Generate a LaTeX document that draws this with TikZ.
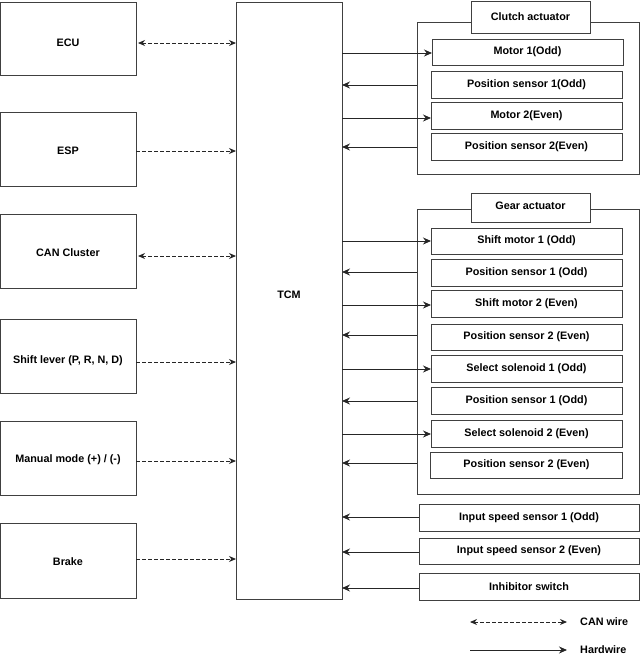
\documentclass[tikz,border=0pt]{standalone}
\usepackage{fontspec}
\setmainfont{Liberation Sans}
\usetikzlibrary{arrows.meta}
\begin{document}
\begin{tikzpicture}[x=1pt,y=-1pt,
  box/.style={draw=black!75,line width=0.9pt},
  lbl/.style={font=\bfseries\fontsize{10.8}{12}\selectfont,inner sep=0pt},
  hw/.style={draw=black!85,line width=0.9pt,-{Stealth[length=8pt,width=7pt]}},
  can/.style={draw=black!85,line width=0.9pt,dash pattern=on 3.5pt off 2.5pt,-{Stealth[length=7pt,width=6pt]}},
  canb/.style={can,{Stealth[length=7pt,width=6pt]}-{Stealth[length=7pt,width=6pt]}}]
\useasboundingbox (0,0) rectangle (640,657);
% left boxes
\draw[box] (0,2) rectangle (136,75); \node[lbl] (ecu) at (68,43) {ECU};
\draw[box] (0,112) rectangle (136,186); \node[lbl] (esp) at (68,151) {ESP};
\draw[box] (0,214) rectangle (136,288); \node[lbl] (can) at (68,253) {CAN Cluster};
\draw[box] (0,319) rectangle (136,393); \node[lbl] (shl) at (68,361) {Shift lever (P, R, N, D)};
\draw[box] (0,421) rectangle (136,495); \node[lbl] (man) at (68,460) {Manual mode (+) / (-)};
\draw[box] (0,523) rectangle (136,598); \node[lbl] (brk) at (68,562) {Brake};
% TCM
\draw[box] (236,2) rectangle (342,599); \node[lbl] (tcm) at (289,295) {TCM};
% left connectors
\draw[canb] (138,43) -- (236,43);
\draw[can] (136,151) -- (236,151);
\draw[canb] (138,256) -- (236,256);
\draw[can] (136,362) -- (236,362);
\draw[can] (136,461) -- (236,461);
\draw[can] (136,559) -- (236,559);
% clutch actuator
\draw[box] (417,22) rectangle (639,174);
\draw[box,fill=white] (471,1) rectangle (590,33); \node[lbl] at (530.5,17) {Clutch actuator};
\draw[box] (432,39) rectangle (623,65); \node[lbl] at (527.5,52) {Motor 1(Odd)};
\draw[box] (431,71) rectangle (622,98); \node[lbl] at (526.5,85) {Position sensor 1(Odd)};
\draw[box] (431,102) rectangle (622,129); \node[lbl] at (526.5,116) {Motor 2(Even)};
\draw[box] (431,133) rectangle (622,160); \node[lbl] at (526.5,147) {Position sensor 2(Even)};
\draw[hw] (342,53) -- (432,53);
\draw[hw] (417,85) -- (342,85);
\draw[hw] (342,118) -- (431,118);
\draw[hw] (417,147) -- (342,147);
% gear actuator
\draw[box] (417,209) rectangle (639,494);
\draw[box,fill=white] (471,193) rectangle (590,222); \node[lbl] at (530.5,206) {Gear actuator};
\draw[box] (431,228) rectangle (622,254); \node[lbl] at (526.5,241) {Shift motor 1 (Odd)};
\draw[box] (431,259) rectangle (622,286); \node[lbl] at (526.5,273) {Position sensor 1 (Odd)};
\draw[box] (431,290) rectangle (622,317); \node[lbl] at (526.5,304) {Shift motor 2 (Even)};
\draw[box] (431,324) rectangle (622,350); \node[lbl] at (526.5,337) {Position sensor 2 (Even)};
\draw[box] (431,355) rectangle (622,382); \node[lbl] at (526.5,369) {Select solenoid 1 (Odd)};
\draw[box] (431,387) rectangle (622,414); \node[lbl] at (526.5,401) {Position sensor 1 (Odd)};
\draw[box] (431,420) rectangle (622,447); \node[lbl] at (526.5,434) {Select solenoid 2 (Even)};
\draw[box] (430,452) rectangle (622,478); \node[lbl] at (526.5,465) {Position sensor 2 (Even)};
\draw[hw] (342,241) -- (431,241);
\draw[hw] (417,272) -- (342,272);
\draw[hw] (342,305) -- (431,305);
\draw[hw] (417,335) -- (342,335);
\draw[hw] (342,369) -- (431,369);
\draw[hw] (417,401) -- (342,401);
\draw[hw] (342,434) -- (431,434);
\draw[hw] (417,463) -- (342,463);
% sensors
\draw[box] (419,504) rectangle (639,531); \node[lbl] at (529,517.5) {Input speed sensor 1 (Odd)};
\draw[box] (419,538) rectangle (639,564); \node[lbl] at (529,551) {Input speed sensor 2 (Even)};
\draw[box] (419,573) rectangle (639,600); \node[lbl] at (529,587) {Inhibitor switch};
\draw[hw] (419,517) -- (342,517);
\draw[hw] (419,552) -- (342,552);
\draw[hw] (419,588) -- (342,588);
% legend
\coordinate (l1a) at (470,622); \coordinate (l1b) at (567,622);
\coordinate (l2a) at (470,650); \coordinate (l2b) at (567,650);
\draw[canb] (l1a) -- (l1b);
\draw[hw] (l2a) -- (l2b);
\node[lbl,anchor=west] at (580,622) {CAN wire};
\node[lbl,anchor=west] at (580,650) {Hardwire};
\end{tikzpicture}
\end{document}
